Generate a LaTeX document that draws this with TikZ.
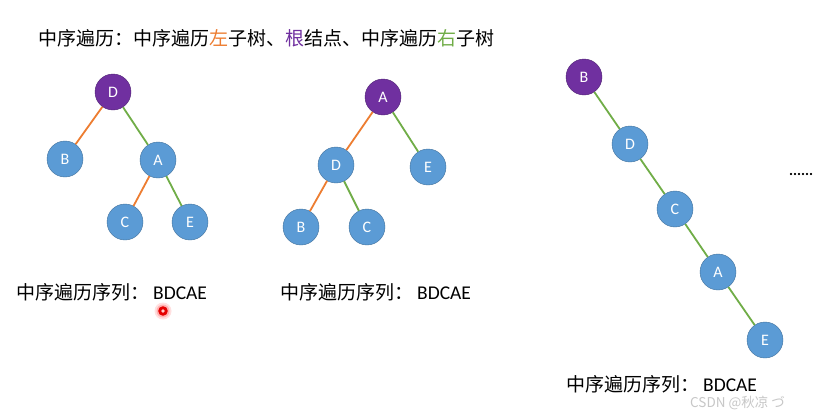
\documentclass[tikz,border=0pt]{standalone}
\usepackage{fontspec}
\setmainfont{Noto Sans CJK SC}
\newfontfamily\latinfont{Carlito}
\definecolor{nodeblue}{HTML}{5B9BD5}
\definecolor{borderblue}{HTML}{41719C}
\definecolor{rootpurple}{HTML}{7030A0}
\definecolor{rootborder}{HTML}{4E2272}
\definecolor{edgeorange}{HTML}{ED7D31}
\definecolor{edgegreen}{HTML}{70AD47}

\begin{document}
\begin{tikzpicture}[x=1pt,y=-1pt,
  leaf/.style={circle,draw=borderblue,fill=nodeblue,minimum size=36pt,inner sep=0pt,
    text=white,font=\latinfont\fontsize{16}{16}\selectfont},
  root/.style={leaf,draw=rootborder,fill=rootpurple},
  ledge/.style={draw=edgeorange,line width=1.8pt},
  redge/.style={draw=edgegreen,line width=1.8pt},
  caption/.style={anchor=west,inner sep=0pt,font=\fontsize{19}{19}\selectfont}]
  \useasboundingbox[fill=white] (0,0) rectangle (813,413);

  \node[caption] (title) at (38,38) {中序遍历：中序遍历\textcolor{edgeorange}{左}子树、\textcolor{rootpurple}{根}结点、中序遍历\textcolor{edgegreen}{右}子树};

  % first tree
  \node[root] (t1D) at (113,92) {D};
  \node[leaf] (t1B) at (65,159) {B};
  \node[leaf] (t1A) at (158,160) {A};
  \node[leaf] (t1C) at (125,222) {C};
  \node[leaf] (t1E) at (190,222) {E};
  \draw[ledge] (t1D) -- (t1B);
  \draw[redge] (t1D) -- (t1A);
  \draw[ledge] (t1A) -- (t1C);
  \draw[redge] (t1A) -- (t1E);
  \node[caption] (seq1) at (16,292) {中序遍历序列：\hspace{4pt}{\latinfont\fontsize{19.5}{19.5}\selectfont BDCAE}};

  % second tree
  \node[root] (t2A) at (383,97) {A};
  \node[leaf] (t2D) at (336,165) {D};
  \node[leaf] (t2E) at (428,167) {E};
  \node[leaf] (t2B) at (301,227) {B};
  \node[leaf] (t2C) at (367,227) {C};
  \draw[ledge] (t2A) -- (t2D);
  \draw[redge] (t2A) -- (t2E);
  \draw[ledge] (t2D) -- (t2B);
  \draw[redge] (t2D) -- (t2C);
  \node[caption] (seq2) at (280,292) {中序遍历序列：\hspace{4pt}{\latinfont\fontsize{19.5}{19.5}\selectfont BDCAE}};

  % third tree
  \node[root] (t3B) at (584,77) {B};
  \node[leaf] (t3D) at (630,144) {D};
  \node[leaf] (t3C) at (675,209) {C};
  \node[leaf] (t3A) at (718,272) {A};
  \node[leaf] (t3E) at (765,340) {E};
  \foreach \a/\b in {t3B/t3D,t3D/t3C,t3C/t3A,t3A/t3E}
    \draw[redge] (\a) -- (\b);
  \node[caption] (seq3) at (566,384) {中序遍历序列：\hspace{4pt}{\latinfont\fontsize{19.5}{19.5}\selectfont BDCAE}};

  \node[anchor=west,inner sep=0pt,font=\latinfont\bfseries\fontsize{15}{15}\selectfont] (more) at (789,174) {......};

  \node[anchor=west,inner sep=0pt,text=black!22,font=\fontsize{13.5}{13.5}\selectfont] (mark) at (690,403) {CSDN @秋凉 づ};

  % pointer dot
  \fill[red!12] (163,311) circle (8.5);
  \fill[red!30] (163,311) circle (6.5);
  \fill[red!90!black] (163,311) circle (4.8);
  \fill[red!20] (163,311) circle (1.8);
\end{tikzpicture}
\end{document}
